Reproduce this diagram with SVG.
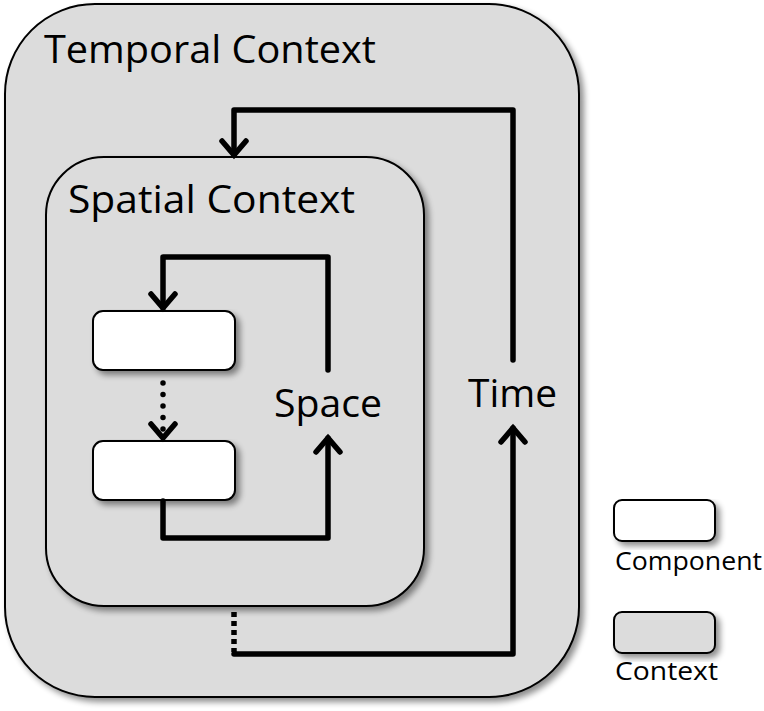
<svg xmlns="http://www.w3.org/2000/svg" width="764" height="711" viewBox="0 0 764 711">
<defs>
<filter id="sh" x="-10%" y="-10%" width="130%" height="130%">
<feGaussianBlur in="SourceAlpha" stdDeviation="3"/>
<feOffset dx="4" dy="4" result="b"/>
<feComponentTransfer><feFuncA type="linear" slope="0.45"/></feComponentTransfer>
<feMerge><feMergeNode/><feMergeNode in="SourceGraphic"/></feMerge>
</filter>
<marker id="ah" viewBox="0 0 24 30" refX="18" refY="15" markerWidth="24" markerHeight="30" markerUnits="userSpaceOnUse" orient="auto">
<path d="M4,3 L18,15 L4,27" fill="none" stroke="#000" stroke-width="5.5" stroke-linecap="round" stroke-linejoin="miter"/>
</marker>
</defs>
<style>
.ctx{fill:#dcdcdc;stroke:#000;stroke-width:2}
.cmp{fill:#fff;stroke:#000;stroke-width:2}
.ln{fill:none;stroke:#000;stroke-width:5.5;stroke-linejoin:round;stroke-linecap:round}
.dot{fill:none;stroke:#000;stroke-width:5.5;stroke-dasharray:0 11.5;stroke-linecap:round}
.sq{fill:none;stroke:#000;stroke-width:5.5;stroke-dasharray:5 4}
.t{font-family:"Open Sans","Noto Sans",sans-serif;font-size:38px;fill:#000}
.s{font-family:"Open Sans","Noto Sans",sans-serif;font-size:25px;fill:#000}
</style>
<rect width="764" height="711" fill="#fff"/>
<g id="temporal">
<rect class="ctx" x="5" y="4" width="574" height="693" rx="90" ry="90" filter="url(#sh)"/>
<text class="t" x="44" y="63" textLength="332" lengthAdjust="spacingAndGlyphs">Temporal Context</text>
</g>
<g id="spatial">
<rect class="ctx" x="46" y="157" width="378" height="449" rx="58" ry="58" filter="url(#sh)"/>
<text class="t" x="68" y="213" textLength="287" lengthAdjust="spacingAndGlyphs">Spatial Context</text>
</g>
<g id="comp1">
<rect class="cmp" x="93" y="311" width="142" height="59" rx="10" ry="10" filter="url(#sh)"/>
</g>
<g id="comp2">
<rect class="cmp" x="93" y="441" width="142" height="59" rx="10" ry="10" filter="url(#sh)"/>
</g>
<g id="labels">
<text class="t" x="274" y="417" textLength="108" lengthAdjust="spacingAndGlyphs">Space</text>
<text class="t" x="468" y="407" textLength="89" lengthAdjust="spacingAndGlyphs">Time</text>
</g>
<g id="connectors">
<path class="ln" d="M328,370 V257 H163 V308" marker-end="url(#ah)"/>
<path class="dot" d="M163,383 V438" marker-end="url(#ah)"/>
<path class="ln" d="M163,501 V538 H328 V438" marker-end="url(#ah)"/>
<path class="ln" d="M513,360 V110 H234 V155" marker-end="url(#ah)"/>
<path class="sq" d="M234,612 V652"/>
<path class="ln" d="M234,654 H513 V428" marker-end="url(#ah)"/>
</g>
<g id="legend-component">
<rect class="cmp" x="614" y="500" width="101" height="41" rx="8" ry="8" filter="url(#sh)"/>
<text class="s" x="615" y="570" textLength="147" lengthAdjust="spacingAndGlyphs">Component</text>
</g>
<g id="legend-context">
<rect class="ctx" x="614" y="612" width="101" height="41" rx="8" ry="8" filter="url(#sh)"/>
<text class="s" x="615" y="680" textLength="103" lengthAdjust="spacingAndGlyphs">Context</text>
</g>
</svg>
